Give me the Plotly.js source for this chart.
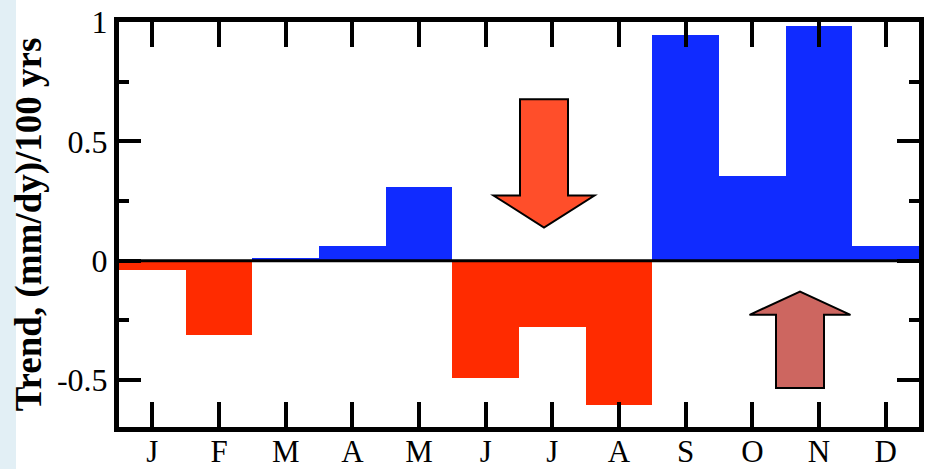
<!DOCTYPE html>
<html>
<head>
<meta charset="utf-8">
<script src="https://cdn.plot.ly/plotly-3.0.1.min.js"></script>
<style>
  html, body { margin: 0; padding: 0; width: 927px; height: 469px; overflow: hidden;
    background: linear-gradient(to right, #E2EFF5 0px, #E2EFF5 16px, #ffffff 16px); }
  #chart { width: 927px; height: 469px; }
</style>
</head>
<body>
<div id="chart"></div>
<script>
// Data
const months = ["J", "F", "M", "A", "M", "J", "J", "A", "S", "O", "N", "D"];
const trend = [-0.04, -0.31, 0.01, 0.06, 0.31, -0.49, -0.28, -0.605, 0.945, 0.353, 0.983, 0.063];
const yTickVals = [-0.5, 0, 0.5, 1];
const yTickText = ["-0.5", "0", "0.5", "1"];

const posColor = "#102BFF";
const negColor = "#FF2B00";

const xIdx = months.map((_, i) => i);
const barColors = trend.map(v => v >= 0 ? posColor : negColor);

// Decorative arrows (data units)
function downArrow(cx, halfShaft, halfHead, top, shoulder, tip) {
  return `M ${cx - halfShaft} ${top} L ${cx + halfShaft} ${top} L ${cx + halfShaft} ${shoulder} L ${cx + halfHead} ${shoulder} L ${cx} ${tip} L ${cx - halfHead} ${shoulder} L ${cx - halfShaft} ${shoulder} Z`;
}
const arrows = [
  { path: downArrow(5.875, 0.36, 0.757, 0.676, 0.273, 0.139), fill: "#FF4E2A" },
  { path: downArrow(9.715, 0.36, 0.757, -0.534, -0.227, -0.130), fill: "#CD6660" }
];

const font = { family: "Liberation Serif, Times New Roman, serif", color: "#000" };

const data = [{
  type: "bar",
  x: xIdx,
  y: trend,
  width: 1,
  marker: { color: barColors, line: { width: 0 } },
  hoverinfo: "skip"
}];

const shapes = arrows.map(a => ({
  type: "path", xref: "x", yref: "y", path: a.path,
  fillcolor: a.fill, line: { color: "#000", width: 2 }, layer: "above"
}));
shapes.push({
  type: "line", xref: "paper", yref: "y", x0: 0, x1: 1, y0: 0, y1: 0,
  line: { color: "#000", width: 3 }, layer: "above"
});

const layout = {
  width: 927, height: 469,
  margin: { l: 119, r: 8, t: 22, b: 42 },
  paper_bgcolor: "rgba(0,0,0,0)",
  plot_bgcolor: "#ffffff",
  showlegend: false,
  bargap: 0,
  font: font,
  xaxis: {
    range: [-0.5, 11.5],
    tickmode: "array", tickvals: xIdx, ticktext: months,
    ticks: "inside", ticklen: 25, tickwidth: 4, tickcolor: "#000",
    showline: true, linewidth: 5, linecolor: "#000", mirror: "ticks",
    showgrid: false, zeroline: false,
    tickfont: { family: font.family, size: 31, color: "#000" },
    ticklabelstandoff: -7,
    layer: "above traces", fixedrange: true
  },
  yaxis: {
    range: [-0.697, 1.0],
    tickmode: "array", tickvals: yTickVals, ticktext: yTickText,
    ticks: "inside", ticklen: 22, tickwidth: 4, tickcolor: "#000",
    minor: { tickmode: "linear", tick0: 0, dtick: 0.25, ticks: "inside", ticklen: 10, tickwidth: 4, tickcolor: "#000", showgrid: false },
    showline: true, linewidth: 5, linecolor: "#000", mirror: "ticks",
    showgrid: false, zeroline: false,
    tickfont: { family: font.family, size: 32, color: "#000" },
    title: { text: "<b>Trend, (mm/dy)/100 yrs</b>", font: { family: font.family, size: 37, color: "#000" }, standoff: 5 },
    layer: "above traces", fixedrange: true
  },
  shapes: shapes
};

Plotly.newPlot("chart", data, layout, { staticPlot: true, displayModeBar: false });
</script>
</body>
</html>
